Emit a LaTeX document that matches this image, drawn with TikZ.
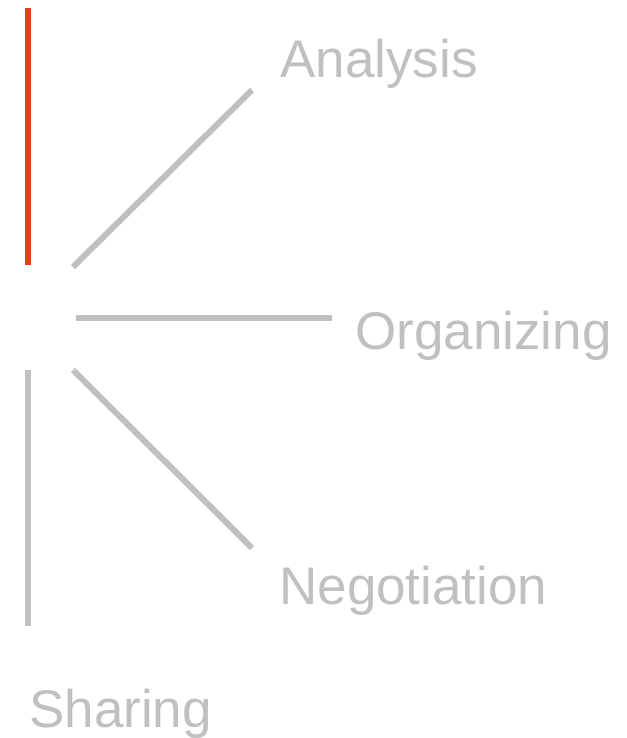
\documentclass[tikz,border=0pt]{standalone}
\usepackage{fontspec}
\setmainfont{Liberation Sans}
\definecolor{accent}{RGB}{224,64,26}
\definecolor{lightgray}{RGB}{192,192,192}
\begin{document}
\begin{tikzpicture}[x=0.75pt,y=-0.75pt,
  bar/.style={line width=4.5pt,draw=lightgray},
  label/.style={anchor=base west,inner sep=0pt,text=lightgray,font=\fontsize{39.75pt}{42pt}\selectfont}]
\useasboundingbox (0,0) rectangle (626,738);
% endpoints
\coordinate (r1) at (28,8);
\coordinate (r2) at (28,265);
\coordinate (a1) at (73,267);
\coordinate (a2) at (252,90);
\coordinate (o1) at (76,318);
\coordinate (o2) at (332,318);
\coordinate (n1) at (73,370);
\coordinate (n2) at (252,548);
\coordinate (s1) at (28,370);
\coordinate (s2) at (28,626);
\draw[bar,draw=accent] (r1) -- (r2);
\draw[bar] (a1) -- (a2);
\draw[bar] (o1) -- (o2);
\draw[bar] (n1) -- (n2);
\draw[bar] (s1) -- (s2);
\node[label] (analysis) at (280,78) {Analysis};
\node[label] (organizing) at (355,349) {Organizing};
\node[label] (negotiation) at (279,604) {Negotiation};
\node[label] (sharing) at (29,727) {Sharing};
\end{tikzpicture}
\end{document}
